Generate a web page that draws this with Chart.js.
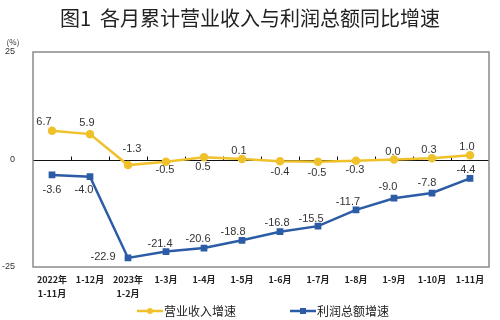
<!DOCTYPE html>
<html>
<head>
<meta charset="utf-8">
<script src="https://cdn.jsdelivr.net/npm/chart.js@4/dist/chart.umd.min.js"></script>
<style>
  html, body { margin: 0; padding: 0; background: #fff; }
  #wrap { width: 500px; height: 320px; position: relative; }
</style>
</head>
<body>
<div id="wrap"><canvas id="growthChart" width="500" height="320"></canvas></div>
<script>
// 月份（累计）
const months = [
  ['2022年', '1-11月'], '1-12月', ['2023年', '1-2月'], '1-3月', '1-4月', '1-5月',
  '1-6月', '1-7月', '1-8月', '1-9月', '1-10月', '1-11月'
];
const revenueGrowth = [6.7, 5.9, -1.3, -0.5, 0.5, 0.1, -0.4, -0.5, -0.3, 0.0, 0.3, 1.0];
const profitGrowth = [-3.6, -4.0, -22.9, -21.4, -20.6, -18.8, -16.8, -15.5, -11.7, -9.0, -7.8, -4.4];
const yTicks = [-25, 0, 25];

const TITLE = '图1  各月累计营业收入与利润总额同比增速';
const YELLOW = '#efc12b';
const BLUE = '#2c5ca6';

// label offsets from the point (dx, dy)
const revLabelOff = [[-8,-9],[-3,-11],[4,-16],[-1,8],[-1,10],[-3,-8],[0,11],[-1,11],[-1,9],[-1,-8],[-3,-8],[-3,-8]];
const profLabelOff = [[0,15],[-6,13],[-25,-1],[-6,-8],[-6,-9],[-9,-8],[-3,-9],[-7,-7],[-8,-8],[-6,-11],[-5,-10],[-4,-8]];

const cjk = '"Noto Sans CJK SC", "Noto Sans", sans-serif';

const decor = {
  id: 'decor',
  beforeDatasetsDraw(chart) {
    const ctx = chart.ctx, a = chart.chartArea;
    const y0 = chart.scales.y.getPixelForValue(0);
    ctx.save();
    // zero line
    ctx.strokeStyle = '#111';
    ctx.lineWidth = 1;
    ctx.beginPath();
    ctx.moveTo(a.left, Math.round(y0) + 0.5);
    ctx.lineTo(a.right, Math.round(y0) + 0.5);
    ctx.stroke();
    // small ticks at category boundaries
    const n = months.length;
    const w = (a.right - a.left) / n;
    ctx.beginPath();
    for (let i = 1; i < n; i++) {
      const x = Math.round(a.left + w * i) + 0.5;
      ctx.moveTo(x, Math.round(y0) + 0.5);
      ctx.lineTo(x, Math.round(y0) - 3.5);
    }
    ctx.stroke();
    ctx.restore();
  },
  afterDraw(chart) {
    const ctx = chart.ctx, a = chart.chartArea;
    ctx.save();
    // plot border
    ctx.strokeStyle = '#8a8a8a';
    ctx.lineWidth = 1.5;
    ctx.strokeRect(a.left, a.top, a.right - a.left, a.bottom - a.top);
    // title
    ctx.fillStyle = '#222';
    ctx.font = '20px ' + cjk;
    ctx.textAlign = 'center';
    ctx.textBaseline = 'middle';
    ctx.fillText(TITLE, 250, 18);
    // unit
    ctx.font = '8px ' + cjk;
    ctx.fillStyle = '#333';
    ctx.fillText('(%)', 13, 42);
    // legend
    ctx.textAlign = 'left';
    ctx.font = '12px ' + cjk;
    const items = [[137, 163, '营业收入增速', YELLOW, 'circle'], [290, 316, '利润总额增速', BLUE, 'rect']];
    items.forEach(([x1, x2, label, color, shape]) => {
      const y = 311;
      ctx.strokeStyle = color;
      ctx.fillStyle = color;
      ctx.lineWidth = 2.5;
      ctx.beginPath();
      ctx.moveTo(x1, y);
      ctx.lineTo(x2, y);
      ctx.stroke();
      const xm = (x1 + x2) / 2;
      if (shape === 'circle') {
        ctx.beginPath();
        ctx.arc(xm, y, 3, 0, Math.PI * 2);
        ctx.fill();
      } else {
        ctx.fillRect(xm - 3, y - 3, 6, 6);
      }
      ctx.fillStyle = '#222';
      ctx.fillText(label, x2 + 1, y);
    });
    // data labels
    ctx.font = '11px "Liberation Sans", Arial, sans-serif';
    ctx.textAlign = 'center';
    ctx.fillStyle = '#333';
    [[0, revenueGrowth, revLabelOff], [1, profitGrowth, profLabelOff]].forEach(([di, vals, offs]) => {
      const meta = chart.getDatasetMeta(di);
      meta.data.forEach((pt, i) => {
        ctx.fillText(vals[i].toFixed(1), pt.x + offs[i][0], pt.y + offs[i][1]);
      });
    });
    ctx.restore();
  }
};

new Chart(document.getElementById('growthChart'), {
  type: 'line',
  data: {
    labels: months,
    datasets: [
      {
        label: '营业收入增速',
        data: revenueGrowth,
        borderColor: YELLOW,
        backgroundColor: YELLOW,
        borderWidth: 2.5,
        pointRadius: 3,
        pointStyle: 'circle',
        tension: 0
      },
      {
        label: '利润总额增速',
        data: profitGrowth,
        borderColor: BLUE,
        backgroundColor: BLUE,
        borderWidth: 2.5,
        pointRadius: 3,
        pointStyle: 'rect',
        tension: 0
      }
    ]
  },
  options: {
    responsive: false,
    animation: false,
    layout: { padding: { left: 0, top: 52, right: 11, bottom: 18 } },
    plugins: {
      legend: { display: false },
      title: { display: false },
      tooltip: { enabled: false }
    },
    scales: {
      x: {
        offset: true,
        grid: { display: false },
        border: { display: false },
        afterFit(scale) { scale.height = 35; },
        ticks: {
          autoSkip: false,
          maxRotation: 0,
          padding: -3,
          color: '#222',
          font: { family: cjk, size: 9, weight: 'bold', lineHeight: 1.6 }
        }
      },
      y: {
        min: -25,
        max: 25,
        grid: { display: false },
        border: { display: false },
        afterFit(scale) { scale.width = 33; },
        afterBuildTicks(scale) { scale.ticks = yTicks.map(v => ({ value: v })); },
        ticks: {
          padding: 10,
          color: '#333',
          font: { family: '"Liberation Sans", Arial, sans-serif', size: 9 }
        }
      }
    }
  },
  plugins: [decor]
});
</script>
</body>
</html>
